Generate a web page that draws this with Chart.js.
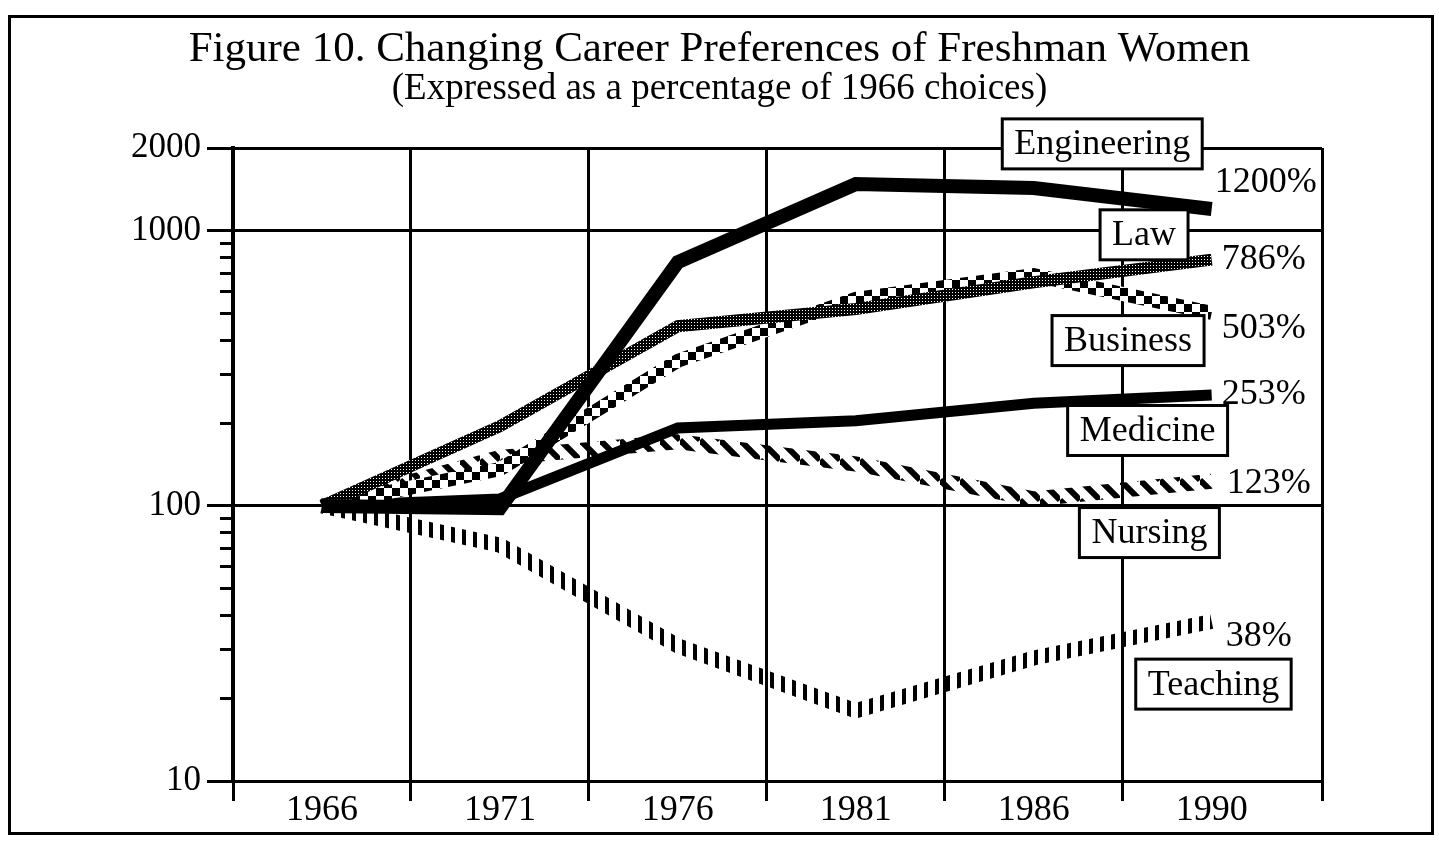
<!DOCTYPE html>
<html>
<head>
<meta charset="utf-8">
<title>Changing Career Preferences of Freshman Women</title>
<script src="https://cdn.jsdelivr.net/npm/chart.js@4.4.1/dist/chart.umd.min.js"></script>
<style>
  html, body { margin: 0; padding: 0; background: #fff; }
  #wrap { position: relative; width: 1439px; height: 841px; }
  #frame { position: absolute; left: 8px; top: 15px; width: 1426px; height: 820px;
           border: 3px solid #000; box-sizing: border-box; pointer-events: none; }
</style>
</head>
<body>
<div id="wrap">
  <canvas id="chart" width="1439" height="841"></canvas>
  <div id="frame"></div>
</div>
<script>
// data, % of 1966 choices
const years = ['1966', '1971', '1976', '1981', '1986', '1990'];
const careers = ['Engineering', 'Law', 'Business', 'Medicine', 'Nursing', 'Teaching'];
const engineering = [100, 98, 770, 1480, 1430, 1200];
const law = [100, 195, 450, 520, 650, 786];
const business = [100, 136, 337, 566, 690, 503];
const medicine = [100, 106, 192, 204, 236, 253];
const nursing = [100, 150, 171, 142, 106, 123];
const teaching = [100, 72, 31, 18, 28, 38];
const endLabels = ['1200%', '786%', '503%', '253%', '123%', '38%'];
const yTicks = [10, 20, 30, 40, 50, 60, 70, 80, 90, 100, 200, 300, 400, 500, 600, 700, 800, 900, 1000, 2000];
const yLabelled = [10, 100, 1000, 2000];

const series = [engineering, law, business, medicine, nursing, teaching];
const X_MAX = 5.62;
const serif = 'Liberation Serif';

Chart.defaults.font.family = serif;
Chart.defaults.color = '#000';

function makePattern(w, h, draw) {
    const c = document.createElement('canvas');
    c.width = w;
    c.height = h;
    const g = c.getContext('2d');
    draw(g, w, h);
    return g.createPattern(c, 'repeat');
}

// dark speckled stroke (Law)
const speckle = makePattern(3, 3, function(g) {
    g.fillStyle = '#000';
    g.fillRect(0, 0, 3, 3);
    g.fillStyle = '#fff';
    g.fillRect(1, 1, 1, 1);
});
// checkerboard (Business)
const checker = makePattern(16, 16, function(g) {
    g.fillStyle = '#fff';
    g.fillRect(0, 0, 16, 16);
    g.fillStyle = '#000';
    g.fillRect(0, 0, 8, 8);
    g.fillRect(8, 8, 8, 8);
});
// diagonal hatching (Nursing)
const hatch = makePattern(20, 20, function(g, s) {
    g.strokeStyle = '#000';
    g.lineWidth = 6;
    [-s, 0, s].forEach(function(c) {
        g.beginPath();
        g.moveTo(0, c);
        g.lineTo(s, c + s);
        g.stroke();
    });
});
// vertical bars (Teaching)
const bars = makePattern(11, 11, function(g) {
    g.fillStyle = '#000';
    g.fillRect(0, 0, 4, 11);
});

function toPoints(values) {
    return values.map((v, i) => ({ x: i, y: v }));
}

const callouts = {
    id: 'callouts',
    afterDatasetsDraw(chart, args, opts) {
        const ctx = chart.ctx;
        const xs = chart.scales.x;
        const ys = chart.scales.y;
        ctx.save();
        ctx.textBaseline = 'middle';
        ctx.font = opts.font;

        series.forEach((values, i) => {
            const last = values.length - 1;
            const off = opts.endOffset[i];
            ctx.fillStyle = '#000';
            ctx.textAlign = 'left';
            ctx.fillText(endLabels[i], xs.getPixelForValue(last) + off[0], ys.getPixelForValue(values[last]) + off[1]);
        });

        careers.forEach((name, i) => {
            const at = opts.boxAt[i];
            const cx = xs.getPixelForValue(at[0]);
            const cy = ys.getPixelForValue(at[1]);
            const w = ctx.measureText(name).width + 2 * opts.boxPad;
            const h = opts.boxHeight;
            ctx.fillStyle = '#fff';
            ctx.fillRect(cx - w / 2, cy - h / 2, w, h);
            ctx.lineWidth = 3;
            ctx.strokeStyle = '#000';
            ctx.strokeRect(cx - w / 2, cy - h / 2, w, h);
            ctx.fillStyle = '#000';
            ctx.textAlign = 'center';
            ctx.fillText(name, cx, cy + 1);
        });
        ctx.restore();
    }
};

const lineStyle = { pointRadius: 0, borderCapStyle: 'butt', borderJoinStyle: 'miter', tension: 0, fill: false };

new Chart(document.getElementById('chart'), {
    type: 'line',
    data: {
        datasets: [
            Object.assign({ label: careers[0], data: toPoints(engineering), borderColor: '#000', borderWidth: 14 }, lineStyle),
            Object.assign({ label: careers[1], data: toPoints(law), borderColor: speckle, borderWidth: 12 }, lineStyle),
            Object.assign({ label: careers[2], data: toPoints(business), borderColor: checker, borderWidth: 14 }, lineStyle),
            Object.assign({ label: careers[3], data: toPoints(medicine), borderColor: '#000', borderWidth: 11 }, lineStyle),
            Object.assign({ label: careers[4], data: toPoints(nursing), borderColor: hatch, borderWidth: 15 }, lineStyle),
            Object.assign({ label: careers[5], data: toPoints(teaching), borderColor: bars, borderWidth: 15 }, lineStyle)
        ]
    },
    options: {
        responsive: false,
        animation: false,
        devicePixelRatio: 1,
        layout: { padding: 0 },
        plugins: {
            legend: { display: false },
            tooltip: { enabled: false },
            title: {
                display: true,
                text: 'Figure 10. Changing Career Preferences of Freshman Women',
                color: '#000',
                font: { family: serif, size: 43, weight: 'normal', lineHeight: 1 },
                padding: { top: 28, bottom: 0 }
            },
            subtitle: {
                display: true,
                text: '(Expressed as a percentage of 1966 choices)',
                color: '#000',
                font: { family: serif, size: 37, weight: 'normal', lineHeight: 1 },
                padding: { top: 0, bottom: 40 }
            },
            callouts: {
                font: '36px "Liberation Serif"',
                boxPad: 12,
                boxHeight: 50,
                endOffset: [[3, -26], [10, 0], [10, 16], [10, 0], [15, 2], [14, 15]],
                boxAt: [[4.385, 2070], [4.62, 967], [4.53, 399], [4.64, 188], [4.65, 80], [5.01, 22.5]]
            }
        },
        scales: {
            x: {
                type: 'linear',
                position: 'bottom',
                min: -0.5,
                max: X_MAX,
                bounds: 'data',
                afterBuildTicks: function(scale) {
                    const vals = [];
                    years.forEach((y, i) => { vals.push(i - 0.5, i); });
                    vals.push(X_MAX);
                    scale.ticks = vals.map(v => ({ value: v }));
                },
                afterFit: function(scale) { scale.height = 60; },
                grid: {
                    color: ctx => (ctx.tick && !Number.isInteger(ctx.tick.value)) ? '#000' : 'rgba(0,0,0,0)',
                    lineWidth: 3,
                    tickLength: 20,
                    tickWidth: 3
                },
                border: { display: true, color: '#000', width: 3 },
                ticks: {
                    autoSkip: false,
                    maxRotation: 0,
                    minRotation: 0,
                    padding: -8,
                    font: { family: serif, size: 36, lineHeight: 1 },
                    callback: v => Number.isInteger(v) ? years[v] : ''
                }
            },
            y: {
                type: 'logarithmic',
                position: 'left',
                min: 10,
                max: 2000,
                afterBuildTicks: function(scale) {
                    scale.ticks = yTicks.map(v => ({ value: v }));
                },
                afterFit: function(scale) { scale.width = 233; },
                grid: {
                    color: ctx => (ctx.tick && yLabelled.includes(ctx.tick.value)) ? '#000' : 'rgba(0,0,0,0)',
                    tickColor: '#000',
                    lineWidth: 3,
                    tickWidth: 3,
                    tickLength: 26,
                    tickBorderDash: ctx => (ctx.tick && yLabelled.includes(ctx.tick.value)) ? [] : [0, 13, 40]
                },
                border: { display: true, color: '#000', width: 4 },
                ticks: {
                    autoSkip: false,
                    padding: 6,
                    font: { family: serif, size: 35 },
                    callback: v => yLabelled.includes(v) ? String(v) : ''
                }
            },
            yr: {
                type: 'linear',
                position: 'right',
                display: true,
                afterFit: function(scale) { scale.width = 117; },
                grid: { display: false },
                border: { display: false },
                ticks: { display: false }
            }
        }
    },
    plugins: [callouts]
});
</script>
</body>
</html>
